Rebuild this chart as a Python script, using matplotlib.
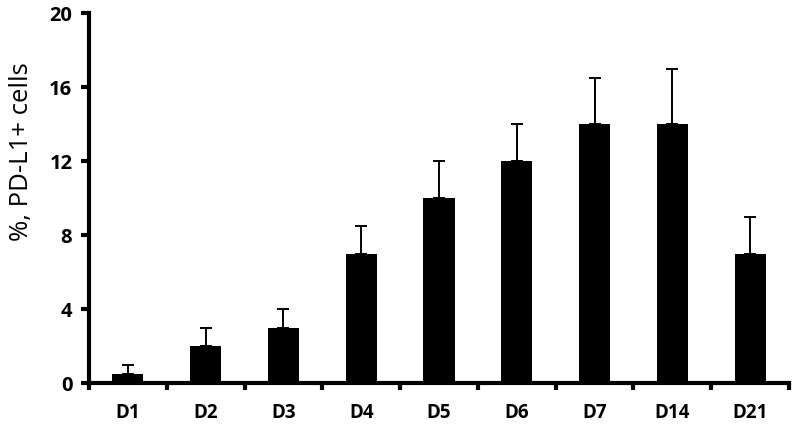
import matplotlib
matplotlib.use("Agg")
import matplotlib.pyplot as plt
import numpy as np

categories = ["D1", "D2", "D3", "D4", "D5", "D6", "D7", "D14", "D21"]
values = [0.5, 2, 3, 7, 10, 12, 14, 14, 7]
errors = [0.5, 1, 1, 1.5, 2, 2, 2.5, 3, 2]
yticks = [0, 4, 8, 12, 16, 20]

plt.rcParams['font.family'] = ['Open Sans', 'DejaVu Sans']

fig = plt.figure(figsize=(7.93, 4.26), dpi=100)
ax = fig.add_axes([0.1122, 0.100, 0.995 - 0.1122, 0.969 - 0.100])

x = np.arange(len(categories))
ax.bar(x, values, width=0.4, color='black', zorder=2)
ax.errorbar(x, values, yerr=[np.zeros(len(values)), errors], fmt='none',
            ecolor='black', elinewidth=1.4, capsize=4, capthick=1.4, zorder=1)

ax.set_xlim(-0.5, len(categories) - 0.5)
ax.set_ylim(0, 20)
ax.set_yticks(yticks)
ax.set_yticklabels([str(t) for t in yticks], fontsize=14.5, fontweight='bold')
ax.set_xticks(x)
ax.set_xticklabels(categories, fontsize=13.5, fontweight='bold')
ax.set_xticks(np.arange(len(categories) + 1) - 0.5, minor=True)
ax.tick_params(axis='x', which='major', length=0, pad=14)
ax.tick_params(axis='x', which='minor', length=5, width=3, direction='out')
ax.tick_params(axis='y', which='major', length=6, width=3, direction='out', pad=6)

for s in ['top', 'right']:
    ax.spines[s].set_visible(False)
for s in ['left', 'bottom']:
    ax.spines[s].set_linewidth(3)

ax.set_ylabel("%, PD-L1+ cells", fontsize=18.5)
ax.yaxis.set_label_coords(-0.078, 0.625)

fig.savefig("out.png", dpi=100)
